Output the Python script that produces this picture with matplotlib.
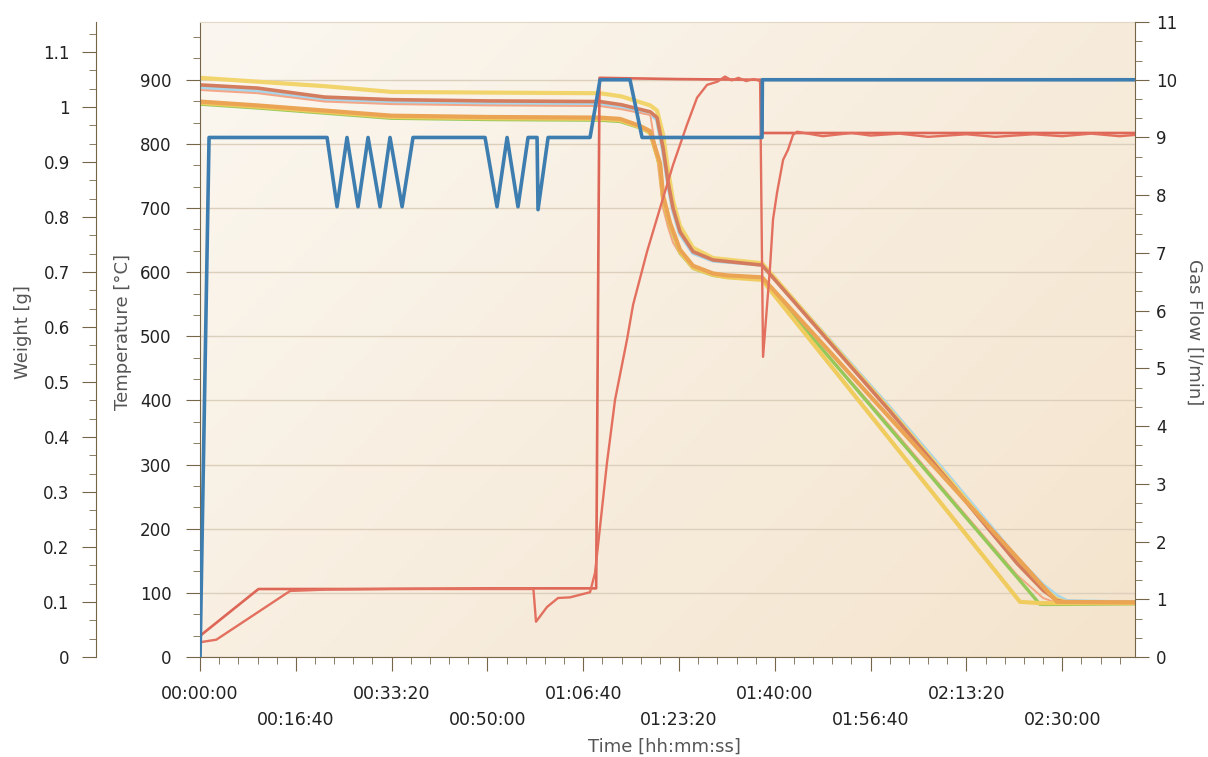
import matplotlib
matplotlib.use('Agg')
import matplotlib.pyplot as plt
import numpy as np
from matplotlib.ticker import MultipleLocator, FuncFormatter

# ---- data (time in seconds) ----
# gas flow [l/min]
t_gas = [0, 94, 1326, 1430, 1534, 1649, 1754, 1879, 1983, 2109, 2223, 2975, 3100, 3205,
         3319, 3424, 3518, 3528, 3633, 4071, 4175, 4488, 4614, 5866, 5870, 9760]
gas_flow = [0, 9, 9, 7.8, 9, 7.8, 9, 7.8, 9, 7.8, 9, 9, 7.8, 9,
            7.8, 9, 9, 7.75, 9, 9, 10, 10, 9, 9, 10, 10]

# furnace temperature [°C]
t_furnace = [0, 610, 1500, 3000, 4100, 4135, 4170, 5000, 5860, 5870, 6500, 7500, 8500, 9760]
furnace = [33, 106, 106, 107, 107, 107, 903, 901, 900, 817, 817, 817, 817, 817]

# gas / sample temperature [°C]
t_gastemp = [0, 170, 940, 1300, 2000, 3000, 3480, 3507, 3622, 3737, 3862, 4071, 4123,
             4248, 4332, 4457, 4520, 4666, 4802, 4937, 5083, 5188, 5292, 5400, 5480,
             5550, 5620, 5700, 5780, 5846, 5877, 5950, 5981, 6023, 6086, 6138, 6190,
             6232, 6500, 6800, 7000, 7300, 7600, 8000, 8300, 8700, 9000, 9300, 9600, 9760]
gastemp = [23, 27, 103, 105, 106, 106, 106, 55, 78, 92, 93, 101, 131,
           303, 401, 495, 549, 632, 700, 767, 830, 872, 892, 897, 905,
           899, 903, 898, 901, 898, 468, 608, 682, 724, 775, 791, 814,
           819, 812, 817, 813, 816, 811, 815, 811, 815, 812, 816, 812, 814]

# thermocouples, upper group
t_upper = [0, 600, 1300, 2000, 3000, 4175, 4400, 4700, 4770, 4833, 4885, 4937, 5010,
           5146, 5355, 5866, 6500, 7203, 7829, 8528, 8800, 8946, 9050, 9760]
tc_yellow = [903, 897, 890, 881, 880, 879, 874, 860, 852, 815, 760, 712, 672,
             638, 622, 614, 505, 385, 275, 150, 108, 90, 85, 85]
tc_brown = [892, 887, 873, 869, 867, 866, 861, 850, 841, 794, 741, 700, 663,
            632, 619, 611, 503, 383, 272, 146, 104, 88, 85, 85]
tc_lightblue = [888, 883, 869, 865, 863, 862, 858, 847, 838, 790, 738, 697, 660,
                630, 618, 612, 506, 388, 279, 154, 112, 95, 87, 85]
tc_salmon = [884, 879, 866, 862, 860, 859, 854, 845, 780, 700, 670, 646, 628,
             608, 597, 592, 480, 360, 250, 128, 92, 84, 84, 84]

# thermocouples, lower group
t_lower = [0, 600, 1300, 2000, 3000, 4175, 4384, 4593, 4697, 4802, 4833, 4906, 5010,
           5146, 5355, 5501, 5866, 8559, 8768, 8946, 9760]
tc_orange = [866, 860, 852, 844, 842, 841, 839, 828, 820, 770, 720, 677, 635,
             610, 598, 595, 592, 150, 115, 86, 85]
tc_green = [862, 856, 848, 840, 838, 837, 835, 825, 817, 764, 712, 672, 630,
            606, 595, 592, 590, 119, 82, 82, 83]
tc_yellow2 = [864, 858, 850, 842, 840, 839, 837, 826, 818, 766, 714, 674, 632,
              607, 596, 592, 588, 86, 84, 84, 84]

x_major = list(range(0, 10000, 1000))

# ---- style ----
spine_col = '#75664a'
label_col = '#555555'
grid_col = '#dccfbb'

fig = plt.figure(figsize=(12.08, 7.57), dpi=100)
ax = fig.add_axes([0.1656, 0.1321, 0.774, 0.8388])
ax_gas = ax.twinx()
ax_w = ax.twinx()

# background gradient
gx, gy = np.meshgrid(np.linspace(0, 1, 200), np.linspace(0, 1, 200))
g = (gx * 0.6 + gy * 0.4)
c0 = np.array([251, 247, 240]) / 255
c1 = np.array([244, 228, 205]) / 255
img = c0[None, None, :] * (1 - g[..., None]) + c1[None, None, :] * g[..., None]
ax.imshow(img, extent=[0, 1, 0, 1], transform=ax.transAxes, aspect='auto', zorder=0,
          origin='upper')

# temperature lines
lw_tc = 3.0
ax.plot(t_upper, tc_lightblue, color='#a9d6ea', lw=lw_tc, zorder=2)
ax.plot(t_upper, tc_yellow, color='#f2d46c', lw=lw_tc, zorder=2)
ax.plot(t_upper, tc_brown, color='#d47d5e', lw=2.6, zorder=2)
ax.plot(t_upper, tc_salmon, color='#f3a585', lw=1.4, zorder=2)
ax.plot(t_lower, tc_green, color='#94c95a', lw=2.4, zorder=2)
ax.plot(t_lower, tc_yellow2, color='#f0cc5e', lw=lw_tc, zorder=2)
ax.plot(t_lower, tc_orange, color='#eba354', lw=lw_tc, zorder=2)
ax.plot(t_furnace, furnace, color='#dd6656', lw=1.9, zorder=3)
ax.plot(t_gastemp, gastemp, color='#e3705f', lw=1.7, zorder=3)

ax_gas.plot(t_gas, gas_flow, color='#3d7db0', lw=2.6, zorder=3)

# limits
ax.set_xlim(0, 9760)
ax.set_ylim(0, 990)
ax_gas.set_ylim(0, 11)
ax_w.set_ylim(0, 1.1545)

# x axis
x_labels = []
for i, s in enumerate(x_major):
    h, r = divmod(s, 3600)
    m, sec = divmod(r, 60)
    lab = f"{h:02d}:{m:02d}:{sec:02d}"
    x_labels.append(lab if i % 2 == 0 else "\n" + lab)
ax.set_xticks(x_major, x_labels, linespacing=1.6)
ax.xaxis.set_minor_locator(MultipleLocator(200))
ax.tick_params(axis='x', which='major', length=10, color=spine_col, labelsize=12.5,
               pad=10, labelcolor='#222222')
ax.tick_params(axis='x', which='minor', length=5, color=spine_col)
ax.set_xlabel('Time [hh:mm:ss]', fontsize=13, color=label_col)
ax.xaxis.set_label_coords(0.497, -0.127)

# temperature axis
ax.yaxis.set_major_locator(MultipleLocator(100))
ax.yaxis.set_minor_locator(MultipleLocator(100 / 3))
ax.tick_params(axis='y', which='major', length=10, color=spine_col, labelsize=12,
               pad=10.5, labelcolor='#222222')
ax.tick_params(axis='y', which='minor', length=5, color=spine_col)
ax.set_ylabel('Temperature [°C]', fontsize=13, color=label_col)
ax.yaxis.set_label_coords(-0.073, 0.512)
ax.yaxis.grid(True, which='major', color=grid_col, lw=1)
ax.set_axisbelow(True)

# gas flow axis
ax_gas.yaxis.set_major_locator(MultipleLocator(1))
ax_gas.yaxis.set_minor_locator(MultipleLocator(1 / 3))
ax_gas.tick_params(axis='y', which='major', length=10, color=spine_col, labelsize=12,
                   pad=5, labelcolor='#222222')
ax_gas.tick_params(axis='y', which='minor', length=5, color=spine_col)
ax_gas.set_ylabel('Gas Flow [l/min]', fontsize=13, color=label_col, rotation=270,
                  va='bottom')
ax_gas.yaxis.set_label_coords(1.054, 0.512)

# weight axis
ax_w.spines['left'].set_position(('axes', -0.1112))
ax_w.yaxis.set_ticks_position('left')
ax_w.yaxis.set_label_position('left')
ax_w.yaxis.set_major_locator(MultipleLocator(0.1))
ax_w.yaxis.set_minor_locator(MultipleLocator(0.1 / 3))
ax_w.yaxis.set_major_formatter(FuncFormatter(lambda v, p: f"{v:.1f}".rstrip('0').rstrip('.')))
ax_w.tick_params(axis='y', which='major', length=10, color=spine_col, labelsize=12,
                 pad=9, labelcolor='#222222')
ax_w.tick_params(axis='y', which='minor', length=5, color=spine_col)
ax_w.set_ylabel('Weight [g]', fontsize=13, color=label_col)
ax_w.yaxis.set_label_coords(-0.18, 0.512)

# spines
for a in (ax, ax_gas, ax_w):
    for s in a.spines.values():
        s.set_visible(False)
ax.spines['left'].set_visible(True)
ax.spines['left'].set_color(spine_col)
ax.spines['bottom'].set_visible(True)
ax.spines['bottom'].set_color(spine_col)
ax.spines['top'].set_visible(True)
ax.spines['top'].set_color('#e2d6c4')
ax_gas.spines['right'].set_visible(True)
ax_gas.spines['right'].set_color(spine_col)
ax_w.spines['left'].set_visible(True)
ax_w.spines['left'].set_color(spine_col)

fig.savefig('out.png', dpi=100, facecolor='white')
